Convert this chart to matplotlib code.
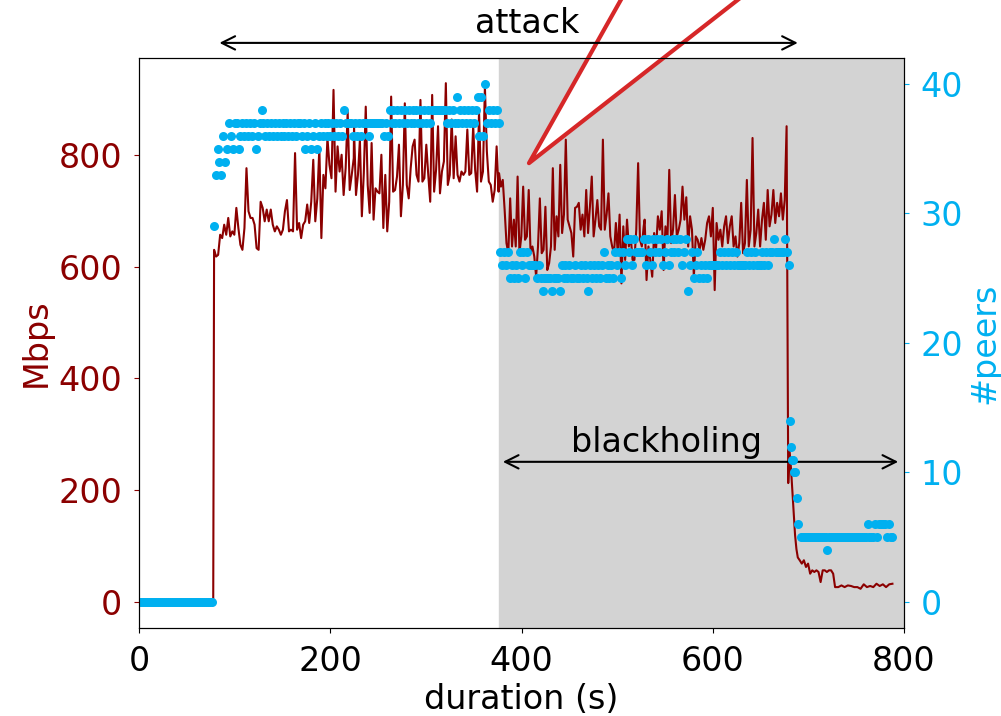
import numpy as np
import matplotlib.pyplot as plt

plt.rcParams['font.size'] = 24

RED = '#8b0000'
BLUE = '#00b0f0'

# 1. throughput (Mbps)
mbps_idle = [0, 0]
mbps_a = [630, 618, 621, 657, 651, 675, 657, 687, 654, 663,
          657, 705, 669, 639, 630, 669, 776, 699, 687, 687,
          675, 633, 630, 716, 705, 681, 702, 681, 702, 675,
          663, 672, 666, 657, 666, 699, 719, 663, 666, 663,
          803, 666, 678, 651, 675, 681, 711, 678, 716, 791,
          681, 722, 812, 651, 764, 740, 830, 782, 758, 916,
          734, 815, 770, 800, 728, 776, 877, 737, 764, 794]
mbps_b = [848, 728, 764, 827, 690, 767, 886, 746, 696, 821,
          684, 740, 734, 731, 800, 669, 764, 663, 716, 904,
          734, 737, 761, 818, 690, 746, 892, 746, 722, 776,
          815, 827, 764, 752, 898, 752, 758, 818, 764, 716,
          907, 734, 773, 851, 731, 770, 788, 928, 746, 764,
          863, 758, 833, 764, 752, 770, 764, 770, 845, 764,
          767, 851, 773, 734, 877, 752, 770, 922, 806, 752,
          746, 716, 737, 815, 734]
mbps_c = [767, 743, 755, 702, 642, 624, 722, 636, 684, 636,
          761, 624, 654, 743, 648, 654, 737, 624, 636, 618,
          582, 636, 722, 624, 630, 707, 594, 606, 636, 776,
          630, 690, 654, 782, 660, 693, 827, 684, 672, 660,
          618, 705, 707, 714, 666, 693, 654, 737, 660, 707,
          761, 654, 684, 719, 672, 666, 827, 666, 693, 731,
          654, 636, 624, 678, 624, 693, 570, 672, 612, 684,
          636, 654, 612, 612, 666, 785, 648, 636, 672]
mbps_d = [684, 576, 636, 612, 582, 660, 630, 690, 666, 699,
          594, 672, 642, 773, 642, 666, 728, 654, 666, 684,
          743, 684, 724, 636, 690, 666, 582, 654, 648, 630,
          651, 630, 648, 678, 690, 654, 705, 558, 678, 648,
          666, 636, 672, 690, 642, 672, 690, 636, 654, 618,
          642, 714, 624, 642, 755, 636, 666, 830, 636, 660,
          702, 636, 684, 714, 648, 737, 672, 693, 737, 678,
          714, 690, 731, 684, 719, 851]
mbps_drop = [213, 270, 240, 200, 160, 120, 95, 80]
mbps_e = [75, 69, 75, 63, 69, 51, 57, 54, 57, 54, 36, 57, 57, 54, 57, 57, 51]
mbps_f = [27, 27, 30, 27, 30, 29, 27, 27, 24, 32, 27, 29, 27, 33, 29, 32, 27, 32, 33]
mbps_spans = [(0, 77.5), (78.4, 224.5), (224.8, 376), (376.5, 527.8),
              (528.8, 677.3), (679, 689), (691, 726), (728, 788)]
mbps_parts = [mbps_idle, mbps_a, mbps_b, mbps_c, mbps_d, mbps_drop, mbps_e, mbps_f]

# 2. number of peers, one sample every 2 s (plus the drop)
peers_idle = [0] * 39  # 0 - 76 s
peers_main = [  # 78 - 680 s
    29, 33, 35, 34, 33, 36, 34, 35, 37, 36, 35,
    37, 37, 35, 36, 37, 36, 37, 36, 37, 36, 37, 35, 36, 37, 38,
    37, 36, 37, 36, 37, 36, 37, 36, 37, 36, 37, 36, 37, 36, 37, 36, 37, 36,
    37, 37, 36, 37, 35, 36, 37, 35, 36, 37, 35, 36, 37, 36, 37, 36, 37, 36,
    37, 36, 37, 36, 37, 36, 38, 37, 37, 37, 37, 36, 37,
    36, 37, 36, 37, 37, 37, 36, 37, 37, 37, 37, 37, 37, 37, 36, 37, 36,
    38, 37, 38, 37, 38, 37, 38, 37, 38, 37, 38, 37, 38, 37, 38, 37, 38, 37,
    38, 37, 38, 37,
    38, 38, 38, 38, 38, 38, 38, 38,
    37, 38, 37, 38, 37, 39, 37, 38, 37, 38, 37, 38, 37, 38, 37, 38,
    39, 36, 39, 36, 40, 37, 38, 37, 38, 37, 38, 37,
    27, 26, 27, 26, 27, 25, 26, 25, 26, 25, 27, 26, 27, 25, 27, 26, 26, 26,
    26, 25, 26, 25,
    24, 25, 25, 25, 25, 24, 25, 25, 25, 24, 26, 25, 26, 25, 26, 25, 25, 26,
    25, 25, 26, 25, 26, 25, 24, 26, 25, 26, 25, 26, 25,
    26, 27, 25, 26, 25, 26, 25, 27, 26, 27, 25, 27, 26, 28, 27, 28, 26, 28,
    27, 27, 27, 27, 28, 26,
    28, 27, 26, 28, 27, 28, 27, 28, 26, 27, 28, 26, 27, 28, 27, 28, 27, 28,
    26, 27, 28,
    24, 26, 27, 25, 26, 27, 25, 26, 25, 26, 25,
    26, 26, 26, 26, 26, 26, 27, 26, 27, 26, 27, 26, 27, 26, 27, 26,
    26, 26, 26, 26, 27, 26, 27, 26, 27, 26, 26, 26, 27, 26, 27, 26, 27,
    27, 28, 27, 27, 27, 27, 27, 28, 27, 26]
peers_drop_t = [680.8, 681.5, 683, 684, 685, 686, 688, 689.5]
peers_drop = [14, 12, 11, 11, 10, 10, 8, 6]
peers_tail = [5, 5, 5, 5, 5, 5, 5, 5, 5, 5, 5, 5, 5, 5, 4,  # 692 - 720 s
              5, 5, 5, 5, 5, 5, 5, 5, 5, 5, 5, 5, 5, 5, 5, 5, 5, 5, 5, 5,
              6, 5, 5, 5, 6, 5, 6, 6, 6, 6, 5, 6, 5, 5]

t_mbps = np.concatenate([np.linspace(a, b, len(v)) for (a, b), v in zip(mbps_spans, mbps_parts)])
mbps = np.concatenate(mbps_parts)
t_peers = np.concatenate([np.arange(0, 78, 2),
                          78 + 2 * np.arange(len(peers_main)),
                          peers_drop_t,
                          692 + 2 * np.arange(len(peers_tail))])
peers = np.concatenate([peers_idle, peers_main, peers_drop, peers_tail])

# 3. plot
fig, ax = plt.subplots(figsize=(10.01, 7.16), dpi=100)
fig.subplots_adjust(left=0.139, right=0.903, top=0.919, bottom=0.123)

ax.axvspan(376.5, 800, color='lightgray', zorder=0)
ax.plot(t_mbps, mbps, color=RED, lw=1.5)
ax.set_xlim(0, 800)
ax.set_ylim(-46, 973)
ax.set_xticks([0, 200, 400, 600, 800])
ax.set_yticks([0, 200, 400, 600, 800])
ax.set_xlabel('duration (s)')
ax.set_ylabel('Mbps', color=RED)
ax.tick_params(axis='both', pad=8.5)
ax.tick_params(axis='y', colors=RED)

ax2 = ax.twinx()
ax2.plot(t_peers, peers, 'o', color=BLUE, ms=6.5, mew=0)
ax2.set_ylim(-2, 42)
ax2.set_yticks([0, 10, 20, 30, 40])
ax2.set_ylabel('#peers', color=BLUE)
ax2.tick_params(axis='y', colors=BLUE, pad=8.5)

# 4. annotations
ax.annotate('', xy=(407.8, 785), xytext=(612.4, 1192),
            arrowprops=dict(arrowstyle='wedge,tail_width=3.6', fc='white',
                            ec='#d62728', lw=3, shrinkA=0, shrinkB=0),
            annotation_clip=False)
ax.annotate('', xy=(84, 1000), xytext=(689, 1000),
            arrowprops=dict(arrowstyle='<->', lw=1.5, shrinkA=0, shrinkB=0),
            annotation_clip=False)
ax.text(405.8, 1018, 'attack', ha='center', va='baseline')
ax.annotate('', xy=(380.5, 251), xytext=(794, 251),
            arrowprops=dict(arrowstyle='<->', lw=1.5, shrinkA=0, shrinkB=0))
ax.text(552, 269, 'blackholing', ha='center', va='baseline')

plt.savefig('out.png', dpi=100)
plt.close()
